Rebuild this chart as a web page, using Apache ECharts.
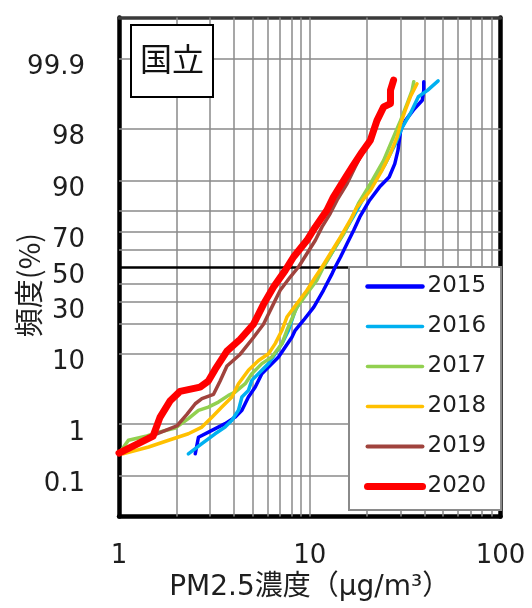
<!DOCTYPE html>
<html>
<head>
<meta charset="utf-8">
<script src="https://cdn.jsdelivr.net/npm/echarts@6.0.0/dist/echarts.min.js"></script>
<style>
html,body{margin:0;padding:0;background:#fff;}
#chart{width:532px;height:608px;}
</style>
</head>
<body>
<div id="chart"></div>
<script>
// ---- data (concentration μg/m3, cumulative frequency %) ----
const years = ['2015', '2016', '2017', '2018', '2019', '2020'];

const conc2015 = [2.51, 2.61, 3.07, 3.60, 4.06, 4.41, 4.77, 5.18, 5.61, 6.08, 6.86, 7.44, 8.06, 8.39, 9.28, 10.5, 11.8, 13.1, 13.6, 14.5, 15.7, 17.0, 18.3, 20.6, 23.2, 26.1, 27.9, 29.0, 30.0, 31.7, 34.9, 38.9, 39.6, 39.6];
const pct2015  = [0.28, 0.58, 0.77, 1.01, 1.30, 1.68, 2.69, 3.75, 5.68, 6.9, 9.1, 11.8, 14.9, 17.4, 21.5, 27.6, 36.5, 46.1, 50.0, 55.9, 63.6, 70.7, 77.1, 83.9, 88.2, 90.9, 93.7, 95.8, 97.9, 98.5, 99.0, 99.33, 99.56, 99.70];

const conc2016 = [2.31, 2.72, 3.19, 3.60, 3.91, 4.23, 4.41, 4.77, 4.97, 5.61, 6.08, 6.59, 7.15, 7.74, 8.39, 9.47, 10.7, 11.75, 13.3, 15.0, 16.9, 18.9, 21.5, 24.9, 28.1, 30.6, 33.7, 37.1, 41.4, 47.1];
const pct2016  = [0.28, 0.44, 0.67, 0.88, 1.15, 1.68, 2.69, 3.37, 4.64, 6.3, 7.6, 9.9, 12.8, 17.4, 26.0, 34.8, 42.2, 50.0, 59.8, 69.0, 77.1, 83.9, 89.2, 93.7, 96.6, 98.1, 98.86, 99.42, 99.56, 99.71];

const conc2017 = [1.0, 1.12, 1.40, 1.58, 1.97, 2.31, 2.61, 2.94, 3.32, 3.75, 4.06, 4.59, 4.97, 5.61, 6.33, 7.15, 7.59, 8.57, 9.67, 10.9, 11.8, 13.3, 15.1, 16.7, 18.0, 20.8, 24.4, 27.5, 29.9, 32.4, 34.4, 35.1];
const pct2017  = [0.28, 0.51, 0.61, 0.70, 0.85, 1.23, 1.68, 1.89, 2.26, 2.85, 3.18, 4.18, 5.68, 7.6, 9.1, 12.8, 17.4, 27.6, 34.7, 42.2, 50.0, 59.8, 69.0, 77.1, 82.7, 89.2, 94.3, 97.3, 98.5, 99.23, 99.56, 99.70];

const conc2018 = [1.05, 1.43, 1.82, 2.31, 2.72, 3.07, 3.46, 3.91, 4.23, 4.77, 5.39, 6.08, 6.59, 7.15, 7.59, 8.57, 9.67, 10.7, 11.6, 12.8, 14.5, 16.3, 17.7, 20.8, 23.9, 26.5, 28.7, 29.9, 31.7, 33.7, 36.5];
const pct2018  = [0.28, 0.38, 0.51, 0.67, 0.88, 1.30, 1.89, 2.69, 4.18, 6.3, 8.3, 9.9, 12.8, 17.4, 22.9, 29.4, 36.5, 44.1, 50.0, 57.9, 67.2, 75.6, 81.3, 87.2, 92.4, 95.4, 97.3, 98.3, 99.0, 99.42, 99.67];

const conc2019 = [1.0, 1.43, 2.01, 2.27, 2.51, 2.72, 3.13, 3.39, 3.68, 4.32, 5.07, 5.72, 6.33, 7.0, 7.9, 8.73, 9.67, 10.7, 11.6, 12.8, 13.9, 15.7, 17.3, 18.8, 21.2, 23.0, 24.4, 26.5, 27.1, 27.5];
const pct2019  = [0.30, 0.58, 0.92, 1.44, 2.13, 2.54, 2.95, 4.54, 7.1, 9.8, 14.8, 19.8, 27.6, 36.5, 44.1, 50.0, 57.9, 65.4, 72.4, 78.6, 83.9, 89.2, 93.1, 95.4, 97.3, 98.7, 99.12, 99.28, 99.6, 99.7];

const conc2020 = [1.0, 1.51, 1.64, 1.85, 2.09, 2.66, 2.94, 3.19, 3.68, 4.32, 5.07, 5.72, 6.46, 7.44, 8.22, 9.67, 10.7, 12.3, 13.3, 15.1, 16.7, 18.8, 20.8, 22.5, 24.4, 26.5, 26.5, 27.5];
const pct2020  = [0.29, 0.61, 1.29, 2.34, 3.26, 3.75, 4.54, 6.45, 10.6, 14.2, 19.8, 29.0, 38.3, 48.0, 55.9, 65.4, 72.4, 80.0, 85.0, 90.1, 93.1, 95.6, 97.0, 98.5, 99.12, 99.23, 99.56, 99.72];

// axis ticks / grid
const yTickLabels = ['0.1', '1', '10', '30', '50', '70', '90', '98', '99.9'];
const yGridPct = [0.1, 1, 10, 20, 30, 40, 60, 70, 80, 90, 98, 99.9];
const yMidPct = 50;
const xGridValues = [2, 3, 4, 5, 6, 7, 8, 9, 10, 20, 30, 40, 50, 60, 70, 80, 90];
const yRangePct = [0.0108, 99.9892];

// ---- normal probability scale (inverse normal CDF, Acklam) ----
function probit(p) {
  const a = [-3.969683028665376e+01, 2.209460984245205e+02, -2.759285104469687e+02, 1.383577518672690e+02, -3.066479806614716e+01, 2.506628277459239e+00];
  const b = [-5.447609879822406e+01, 1.615858368580409e+02, -1.556989798598866e+02, 6.680131188771972e+01, -1.328068155288572e+01];
  const c = [-7.784894002430293e-03, -3.223964580411365e-01, -2.400758277161838e+00, -2.549732539343734e+00, 4.374664141464968e+00, 2.938163982698783e+00];
  const d = [7.784695709041462e-03, 3.224671290700398e-01, 2.445134137142996e+00, 3.754408661907416e+00];
  const pl = 0.02425, ph = 1 - pl;
  let q, r;
  if (p < pl) {
    q = Math.sqrt(-2 * Math.log(p));
    return (((((c[0]*q+c[1])*q+c[2])*q+c[3])*q+c[4])*q+c[5]) / ((((d[0]*q+d[1])*q+d[2])*q+d[3])*q+1);
  } else if (p <= ph) {
    q = p - 0.5; r = q * q;
    return (((((a[0]*r+a[1])*r+a[2])*r+a[3])*r+a[4])*r+a[5])*q / (((((b[0]*r+b[1])*r+b[2])*r+b[3])*r+b[4])*r+1);
  } else {
    q = Math.sqrt(-2 * Math.log(1 - p));
    return -(((((c[0]*q+c[1])*q+c[2])*q+c[3])*q+c[4])*q+c[5]) / ((((d[0]*q+d[1])*q+d[2])*q+d[3])*q+1);
  }
}
const z = p => probit(p / 100);
const toData = (cs, ps) => cs.map((v, i) => [v, z(ps[i])]);

const seriesConc = [conc2015, conc2016, conc2017, conc2018, conc2019, conc2020];
const seriesPct = [pct2015, pct2016, pct2017, pct2018, pct2019, pct2020];
const colors = ['#0000FF', '#00B0F0', '#92D050', '#FFC000', '#A0433D', '#FF0000'];
const widths = [3.5, 3.5, 3.5, 3.5, 3.5, 7];
const legendWidths = [4.5, 3.5, 3.5, 3.5, 4, 7];

const zTicks = yTickLabels.map(l => z(parseFloat(l)));
const yMin = z(yRangePct[0]), yMax = z(yRangePct[1]);

const FONT = "'DejaVu Sans', 'Noto Sans CJK JP', sans-serif";
const TXT = '#1e1e1e';

const chart = echarts.init(document.getElementById('chart'), null, {renderer: 'canvas'});

const dataSeries = years.map((y, i) => ({
  name: y,
  type: 'line',
  data: toData(seriesConc[i], seriesPct[i]),
  symbol: 'none',
  z: 2,
  lineStyle: {color: colors[i], width: widths[i], join: 'round', cap: 'round'},
  itemStyle: {color: colors[i]},
  emphasis: {disabled: true}
}));

const gridSeries = {
  name: 'grid',
  type: 'line',
  data: [],
  silent: true,
  markLine: {
    silent: true,
    z: 1,
    symbol: ['none', 'none'],
    label: {show: false},
    animation: false,
    lineStyle: {type: 'solid', color: '#8a8a8a', width: 1.5},
    data: [
      ...xGridValues.map(v => ({xAxis: v})),
      ...yGridPct.map(p => ({yAxis: z(p)})),
      {yAxis: z(yMidPct), lineStyle: {color: '#000', width: 2.5}}
    ]
  }
};

chart.setOption({
  animation: false,
  backgroundColor: '#fff',
  title: {
    text: '国立',
    left: 131, top: 25,
    padding: [18, 9, 22, 9],
    borderColor: '#000', borderWidth: 2,
    backgroundColor: '#fff',
    textStyle: {fontSize: 32, fontWeight: 'normal', fontFamily: "'Noto Sans CJK JP', sans-serif", color: '#111'}
  },
  legend: {
    data: years.map((y, i) => ({name: y, lineStyle: {width: legendWidths[i], cap: 'round'}})),
    orient: 'vertical',
    left: 349, top: 267,
    padding: [8, 15, 12, 15],
    itemWidth: 55, itemHeight: 23, itemGap: 17,
    backgroundColor: '#fff',
    borderColor: '#8a8a8a', borderWidth: 2,
    itemStyle: {opacity: 0},
    textStyle: {fontSize: 23, fontFamily: FONT, color: TXT, lineHeight: 23},
    z: 10
  },
  grid: {left: 119, right: 31.5, top: 17.5, bottom: 91.5, containLabel: false, outerBoundsMode: 'none'},
  xAxis: [{
    type: 'log', logBase: 10, min: 1, max: 100,
    position: 'bottom',
    name: 'PM2.5濃度（μg/m³）',
    nameLocation: 'middle', nameGap: 57,
    nameMoveOverlap: false,
    nameTextStyle: {fontSize: 28, fontFamily: FONT, color: TXT},
    axisLine: {show: true, onZero: false, lineStyle: {color: '#000', width: 4.5}},
    axisTick: {show: false},
    splitLine: {show: false},
    minorTick: {show: false},
    axisLabel: {fontSize: 26, fontFamily: FONT, color: TXT, margin: 27, showMinLabel: true, showMaxLabel: true}
  }, {
    type: 'log', logBase: 10, min: 1, max: 100,
    position: 'top',
    axisLine: {show: true, onZero: false, lineStyle: {color: '#3a3a3a', width: 3.5}},
    axisTick: {show: false}, axisLabel: {show: false}, splitLine: {show: false}
  }],
  yAxis: [{
    type: 'value', min: yMin, max: yMax,
    position: 'left',
    name: '頻度(%)',
    nameLocation: 'middle', nameGap: 76,
    nameRotate: 90,
    nameMoveOverlap: false,
    nameTextStyle: {fontSize: 29, fontFamily: "'Noto Sans CJK JP', 'DejaVu Sans', sans-serif", color: TXT, padding: [0, 36, 0, 0]},
    axisLine: {show: true, onZero: false, lineStyle: {color: '#000', width: 4.5}},
    axisTick: {show: false},
    splitLine: {show: false},
    axisLabel: {
      customValues: zTicks,
      fontSize: 26, fontFamily: FONT, color: TXT, margin: 34,
      verticalAlign: 'top', lineHeight: 18,
      formatter: function (v) {
        for (let i = 0; i < zTicks.length; i++) {
          if (Math.abs(zTicks[i] - v) < 1e-6) return yTickLabels[i];
        }
        return '';
      }
    }
  }, {
    type: 'value', min: yMin, max: yMax,
    position: 'right',
    axisLine: {show: true, onZero: false, lineStyle: {color: '#000', width: 4.5}},
    axisTick: {show: false}, axisLabel: {show: false}, splitLine: {show: false}
  }],
  series: [gridSeries, ...dataSeries]
});
</script>
</body>
</html>
